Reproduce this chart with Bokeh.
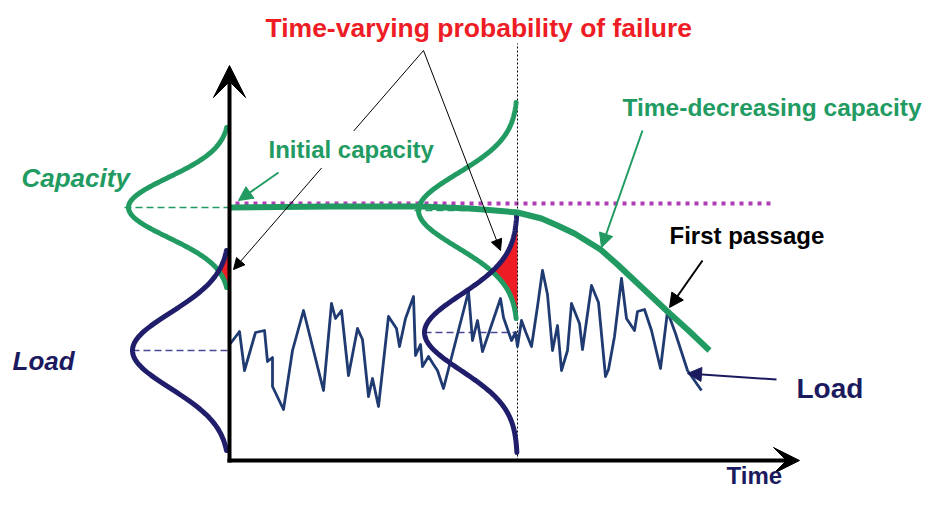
import numpy as np
from bokeh.plotting import figure
from bokeh.models import Range1d, Label, Arrow, VeeHead, NormalHead
from bokeh.embed import file_html
from bokeh.resources import INLINE

# ---------------- data (arbitrary units: time t, magnitude v) ----------------
load_time = [0, 9, 14, 25, 34, 37, 42, 42, 53, 62, 73, 93, 101, 105, 111, 118, 127, 132, 138, 142,
             148, 158, 166, 169, 175, 183, 185, 190, 192, 198, 203, 207, 213, 238, 242, 247, 252, 270,
             273, 281, 285, 287, 291, 295, 301, 307, 312, 317, 322, 327, 331, 337, 341, 349, 352, 361,
             368, 375, 378, 384, 391, 396, 404, 407, 414, 421, 430, 437, 445, 457, 471]
load_value = [117, 129, 90, 128, 130, 99, 103, 74, 51, 110, 150, 70, 157, 142, 150, 85, 132, 121, 64, 82,
              54, 144, 132, 114, 142, 164, 105, 116, 94, 104, 96, 90, 72, 169, 120, 140, 109, 162,
              143, 120, 128, 114, 140, 129, 114, 154, 190, 166, 110, 135, 90, 110, 157, 137, 111, 175,
              158, 84, 91, 124, 182, 142, 130, 149, 151, 130, 92, 149, 127, 90, 70]

capacity_time = [0, 100, 190, 240, 287, 311, 327, 344, 370, 387, 404, 420, 437, 458, 479]
capacity_value = [253, 254, 254, 252, 248, 242, 235, 227, 211, 196, 180, 165, 149, 130, 110]

initial_capacity_level = 257
initial_capacity_span = [5, 544]

# distributions shown at two instants
dist_time = [-1, 287]
cap_mean = [253, 250]
cap_sd = [30, 37]
cap_half = [80, 108]
cap_height = [101, 99]
load_mean = [110, 128]
load_sd = [38, 38]
load_half = [100, 120]
load_height = [97, 93]

# ---------------- styles ----------------
GREEN = "#229b63"
NAVY = "#201d6b"
SERIES = "#1f3b72"
RED = "#ee1c24"
MAGENTA = "#b03db5"
TXT_NAVY = "#1c1a5e"
FONT = "Liberation Sans"

p = figure(width=933, height=490, x_range=Range1d(-230, 703), y_range=Range1d(-30, 460),
           x_axis_location=None, y_axis_location=None, toolbar_location=None,
           output_backend="svg", min_border=0, outline_line_color=None)
p.grid.visible = False
p.background_fill_color = "white"
p.border_fill_color = "white"


def pdf(v, mean, sd, height):
    return height * np.exp(-0.5 * ((v - mean) / sd) ** 2)


# red failure (overlap) regions
for i in range(2):
    lo = cap_mean[i] - cap_half[i]
    hi = load_mean[i] + load_half[i]
    v = np.linspace(lo, hi, 120)
    m = np.minimum(pdf(v, cap_mean[i], cap_sd[i], cap_height[i]),
                   pdf(v, load_mean[i], load_sd[i], load_height[i]))
    xs = list(dist_time[i] - m) + [dist_time[i], dist_time[i]]
    ys = list(v) + [hi, lo]
    p.patch(xs, ys, fill_color=RED, line_color=None)

# threshold (initial capacity) dotted line
p.line(initial_capacity_span, [initial_capacity_level] * 2, line_color=MAGENTA,
       line_width=4, line_dash="4 5")

# vertical dotted line at the second instant
p.line([dist_time[1], dist_time[1]], [0, 417], line_color="black", line_width=1, line_dash="2 2")

# mean dashed lines
for i in range(2):
    p.line([dist_time[i] - cap_height[i] - 4, dist_time[i]], [cap_mean[i]] * 2,
           line_color=GREEN, line_width=1.5, line_dash="7 4")
    p.line([dist_time[i] - load_height[i], dist_time[i]], [load_mean[i]] * 2,
           line_color="#4a4896", line_width=1.5, line_dash="7 4")

# load time series
p.line(load_time, load_value, line_color=SERIES, line_width=2.8, line_join="round")

# pdf curves
for i in range(2):
    v = np.linspace(cap_mean[i] - cap_half[i], cap_mean[i] + cap_half[i], 200)
    p.line(dist_time[i] - pdf(v, cap_mean[i], cap_sd[i], cap_height[i]), v,
           line_color=GREEN, line_width=5, line_cap="round")
    v = np.linspace(load_mean[i] - load_half[i], load_mean[i] + load_half[i], 200)
    p.line(dist_time[i] - pdf(v, load_mean[i], load_sd[i], load_height[i]), v,
           line_color=NAVY, line_width=5, line_cap="round")

# capacity mean curve
p.line(capacity_time, capacity_value, line_color=GREEN, line_width=6, line_join="round")

# main axes
p.add_layout(Arrow(end=VeeHead(size=32, fill_color="black", line_color="black"),
                   x_start=-1, y_start=-2, x_end=-1, y_end=395,
                   line_color="black", line_width=4))
p.add_layout(Arrow(end=VeeHead(size=26, fill_color="black", line_color="black"),
                   x_start=-3, y_start=0, x_end=569, y_end=0,
                   line_color="black", line_width=4))

# annotation arrows
def arrow(x0, y0, x1, y1, color, width, size):
    p.add_layout(Arrow(end=NormalHead(size=size, fill_color=color, line_color=color),
                       x_start=x0, y_start=y0, x_end=x1, y_end=y1,
                       line_color=color, line_width=width))

arrow(193, 410, 3, 191, "black", 1, 11)
arrow(193, 410, 270, 210, "black", 1, 11)
arrow(48, 288, 8, 260, GREEN, 2, 14)
arrow(412, 330, 371, 213, GREEN, 2, 14)
arrow(472, 200, 439, 153, "black", 2, 14)
arrow(546, 81, 457, 87, TXT_NAVY, 2, 14)

# texts
def label(x, y, text, color, size, style="bold", bg=None):
    kw = {}
    if bg:
        kw = dict(background_fill_color=bg, padding=5)
    p.add_layout(Label(x=x, y=y, text=text, text_color=color, text_font=FONT,
                       text_font_size=size, text_font_style=style,
                       text_align="left", text_baseline="alphabetic", **kw))

label(35, 433, "Time-varying probability of failure", RED, "26.5px")
label(33, 311, "Initial capacity", GREEN, "24px", bg="white")
label(392, 353, "Time-decreasing capacity", GREEN, "24.5px")
label(439, 225, "First passage", "black", "24px")
label(-209, 283, "Capacity", GREEN, "26px", style="bold italic")
label(-218, 100, "Load", TXT_NAVY, "26px", style="bold italic")
label(566, 72, "Load", TXT_NAVY, "28px")
label(496, -15, "Time", TXT_NAVY, "24px")

open("out.html", "w").write(file_html(p, INLINE))
